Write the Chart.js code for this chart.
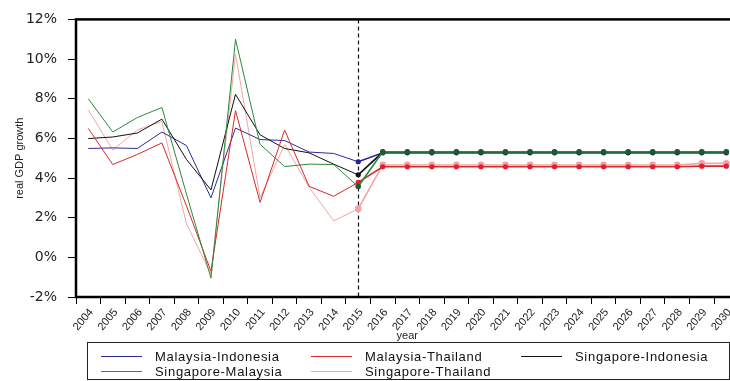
<!DOCTYPE html>
<html>
<head>
<meta charset="utf-8">
<script src="https://cdn.jsdelivr.net/npm/chart.js@4/dist/chart.umd.min.js"></script>
<style>
  body { margin: 0; background: #fff; overflow: hidden; }
  #wrap { position: relative; width: 742px; height: 381px; }
  #legend { position: absolute; left: 87px; top: 342px; width: 643px; height: 38px; border: 1.5px solid #222; box-sizing: border-box; font: 13px "Liberation Sans", Arial, sans-serif; letter-spacing: 0.7px; color: #111; }
  .item { position: absolute; display: flex; align-items: center; height: 14px; white-space: nowrap; }
  .item .line { display: inline-block; width: 41px; height: 1px; margin-right: 13px; }
</style>
</head>
<body>
<div id="wrap">
  <canvas id="chart" width="742" height="381"></canvas>
  <div id="legend"></div>
</div>
<script>
// años y series (crecimiento real del PIB, %)
const years = ["2004", "2005", "2006", "2007", "2008", "2009", "2010", "2011", "2012", "2013", "2014", "2015", "2016",
  "2017", "2018", "2019", "2020", "2021", "2022", "2023", "2024", "2025", "2026", "2027", "2028", "2029", "2030"];

const malaysiaIndonesia = [5.49, 5.52, 5.49, 6.32, 5.64, 3.0, 6.52, 5.94, 5.89, 5.31, 5.24, 4.82,
  5.27, 5.27, 5.27, 5.27, 5.27, 5.27, 5.27, 5.27, 5.27, 5.27, 5.27, 5.27, 5.27, 5.27, 5.27];
const malaysiaThailand = [6.5, 4.68, 5.19, 5.77, 2.6, -0.7, 7.4, 2.77, 6.42, 3.58, 3.08, 3.78,
  4.57, 4.57, 4.57, 4.57, 4.57, 4.57, 4.57, 4.57, 4.57, 4.57, 4.57, 4.57, 4.57, 4.6, 4.6];
const singaporeIndonesia = [5.99, 6.07, 6.27, 6.97, 4.94, 3.4, 8.22, 6.18, 5.49, 5.27, 4.7, 4.16,
  5.31, 5.31, 5.31, 5.31, 5.31, 5.31, 5.31, 5.31, 5.31, 5.31, 5.31, 5.31, 5.31, 5.31, 5.31];
const singaporeMalaysia = [8.0, 6.32, 7.05, 7.56, 3.2, -1.05, 11.0, 5.7, 4.58, 4.7, 4.68, 3.57,
  5.32, 5.32, 5.32, 5.32, 5.32, 5.32, 5.32, 5.32, 5.32, 5.32, 5.32, 5.32, 5.32, 5.32, 5.32];
const singaporeThailand = [7.44, 5.41, 6.43, 6.85, 1.7, -0.85, 10.25, 3.0, 5.69, 3.53, 1.84, 2.45,
  4.66, 4.66, 4.66, 4.66, 4.66, 4.66, 4.66, 4.66, 4.66, 4.66, 4.66, 4.66, 4.66, 4.74, 4.74];

const seriesNames = ["Malaysia-Indonesia", "Malaysia-Thailand", "Singapore-Indonesia", "Singapore-Malaysia", "Singapore-Thailand"];
const seriesColors = ["#2b2b9a", "#d42a2a", "#111111", "#2a8a3a", "#f2a6a6"];
const yTicks = [-2, 0, 2, 4, 6, 8, 10, 12];
const forecastStart = "2015";

const startIdx = years.indexOf(forecastStart);

const makeSet = (i, data, dotColor, radius, order) => ({
  label: seriesNames[i], data, order,
  borderColor: seriesColors[i],
  backgroundColor: dotColor,
  pointBorderColor: dotColor,
  pointBorderWidth: 0,
  pointRadius: (c) => (c.dataIndex >= startIdx ? radius : 0),
  pointHoverRadius: 0,
  borderWidth: 1,
  segment: { borderWidth: (c) => (c.p0DataIndex >= startIdx ? 1.6 : 1) },
  fill: false,
});

const datasets = [
  makeSet(0, malaysiaIndonesia, "#23239a", 2.6, 4),
  makeSet(1, malaysiaThailand, "#e01e2e", 2.6, 2),
  makeSet(2, singaporeIndonesia, "#111111", 2.6, 3),
  makeSet(3, singaporeMalaysia, "#1d5a2e", 2.8, 1),
  makeSet(4, singaporeThailand, "#f4a0a6", 3.4, 5),
];

// línea punteada y marco del gráfico
const framePlugin = {
  id: "frame",
  beforeDatasetsDraw(chart) {
    const { ctx, chartArea: a, scales: { x } } = chart;
    const px = Math.round(x.getPixelForValue(startIdx)) + 0.5;
    ctx.save();
    ctx.setLineDash([4, 3]);
    ctx.lineWidth = 1.2;
    ctx.strokeStyle = "#111";
    ctx.beginPath();
    ctx.moveTo(px, a.top);
    ctx.lineTo(px, a.bottom);
    ctx.stroke();
    ctx.restore();
  },
  afterDatasetsDraw(chart) {
    const { ctx, chartArea: a } = chart;
    ctx.save();
    ctx.lineWidth = 2.5;
    ctx.strokeStyle = "#000";
    ctx.strokeRect(a.left, a.top, a.right - a.left, a.bottom - a.top);
    ctx.restore();
  },
};

const chart = new Chart(document.getElementById("chart").getContext("2d"), {
  type: "line",
  data: { labels: years, datasets },
  plugins: [framePlugin],
  options: {
    responsive: false,
    animation: false,
    devicePixelRatio: 1,
    layout: { padding: { top: 15, bottom: 38, left: 0, right: 2 } },
    plugins: { legend: { display: false }, tooltip: { enabled: false } },
    scales: {
      x: {
        type: "category",
        offset: true,
        afterFit: (s) => { s.height = 46; },
        border: { display: false },
        grid: { offset: true, drawOnChartArea: false, drawTicks: true, tickLength: 7, color: "#000", lineWidth: 1 },
        ticks: {
          autoSkip: false, maxRotation: 50, minRotation: 50, padding: 2, labelOffset: 3,
          color: "#222", font: { family: "'Liberation Sans', Arial, sans-serif", size: 11 },
        },
        title: {
          display: true, text: "year", color: "#222", padding: { top: 0, bottom: 0 },
          font: { family: "'Liberation Sans', Arial, sans-serif", size: 11 },
        },
      },
      y: {
        min: -2, max: 12,
        afterFit: (s) => { s.width = 76; },
        afterBuildTicks: (s) => { s.ticks = yTicks.map((v) => ({ value: v })); },
        border: { display: false },
        grid: { drawOnChartArea: false, drawTicks: true, tickLength: 8, color: "#000", lineWidth: 1 },
        ticks: {
          padding: 11, color: "#222",
          font: { family: "'DejaVu Sans', sans-serif", size: 14 },
          callback: (v) => v + "%",
        },
        title: {
          display: true, text: "real GDP growth", color: "#222", padding: { top: 13, bottom: 0 },
          font: { family: "'Liberation Sans', Arial, sans-serif", size: 11 },
        },
      },
    },
  },
});

// leyenda en tres columnas como en la figura
const legendBox = document.getElementById("legend");
const colLeft = [13, 223, 433];
const rowTop = [6, 21];
datasets.forEach((ds, i) => {
  const div = document.createElement("div");
  div.className = "item";
  div.style.left = colLeft[i % 3] + "px";
  div.style.top = rowTop[Math.floor(i / 3)] + "px";
  div.innerHTML = `<span class="line" style="background:${seriesColors[i]}"></span>${seriesNames[i]}`;
  legendBox.appendChild(div);
});
</script>
</body>
</html>
